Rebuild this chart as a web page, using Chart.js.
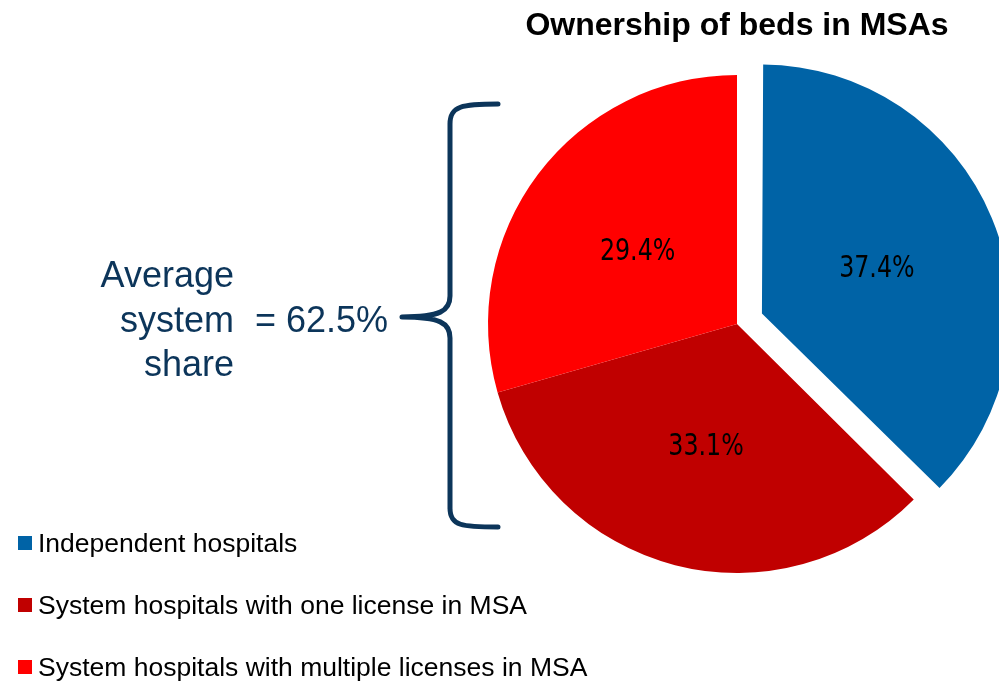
<!DOCTYPE html>
<html>
<head>
<meta charset="utf-8">
<script src="https://cdn.jsdelivr.net/npm/chart.js@4/dist/chart.umd.min.js"></script>
<style>
  html, body { margin: 0; padding: 0; background: #fff; }
  #wrap { position: relative; width: 999px; height: 686px; overflow: hidden; font-family: Arial, "Liberation Sans", sans-serif; }
  #c { position: absolute; left: 0; top: 0; }
  .ann { position: absolute; color: #0C355A; font-size: 36px; line-height: 44.5px; white-space: nowrap; }
  #legend { position: absolute; left: 0; top: 0; }
  .li { position: absolute; left: 18px; height: 30px; display: flex; align-items: center; font-size: 26.5px; color: #000; white-space: nowrap; }
  .li span.box { display: inline-block; width: 14px; height: 14px; margin-right: 6px; }
  svg { position: absolute; left: 0; top: 0; }
</style>
</head>
<body>
<div id="wrap">
  <canvas id="c" width="999" height="686"></canvas>
  <svg width="999" height="686">
    <path d="M 498 104 C 462 104, 450 106, 450 124 L 450 296 C 450 311, 440 317, 402 317 C 440 317, 450 323, 450 338 L 450 508 C 450 526, 462 527, 498 527"
          fill="none" stroke="#0C355A" stroke-width="5" stroke-linecap="round" stroke-linejoin="round"/>
  </svg>
  <div class="ann" style="left:0; width:234px; top:253px; text-align:right;">Average<br>system<br>share</div>
  <div class="ann" style="left:255px; top:298px;">= 62.5%</div>
  <div id="legend"></div>
</div>
<script>
// ---- data ----
const categories = [
  'Independent hospitals',
  'System hospitals with one license in MSA',
  'System hospitals with multiple licenses in MSA'
];
const shares = [37.4, 33.1, 29.4];
const sliceColors = ['#0063A6', '#C00000', '#FF0000'];
const sliceOffsets = [108, 0, 0];
const chartTitle = 'Ownership of beds in MSAs';

const FONT = 'Arial, "Liberation Sans", sans-serif';
const NARROW = '"Liberation Sans Narrow", "Arial Narrow", "DejaVu Sans Condensed", sans-serif';

// keep exploded slice the same radius as the others (Chart.js enlarges it slightly)
const radiusFix = {
  id: 'radiusFix',
  afterDatasetsUpdate(chart) {
    const meta = chart.getDatasetMeta(0);
    meta.data.forEach(arc => {
      const off = (arc.options.offset || 0) / 4;
      if (off) {
        const fix = 1 - Math.sin(Math.min(Math.PI, arc.circumference || 0));
        arc.outerRadius -= off * fix;
      }
    });
  }
};

const sliceLabels = {
  id: 'sliceLabels',
  afterDatasetsDraw(chart) {
    const meta = chart.getDatasetMeta(0);
    const R = meta.controller.outerRadius;
    const ctx = chart.ctx;
    ctx.save();
    ctx.font = '30px ' + NARROW;
    ctx.fillStyle = '#000';
    ctx.textAlign = 'center';
    ctx.textBaseline = 'middle';
    meta.data.forEach((arc, i) => {
      const half = (arc.startAngle + arc.endAngle) / 2;
      const d = (arc.options.offset || 0) / 4 + R / 2;
      const x = arc.x + Math.cos(half) * d;
      const y = arc.y + Math.sin(half) * d + 3;
      ctx.save();
      ctx.translate(x, y);
      ctx.scale(0.88, 1);
      ctx.fillText(shares[i].toFixed(1) + '%', 0, 0);
      ctx.restore();
    });
    ctx.restore();
  }
};

new Chart(document.getElementById('c'), {
  type: 'pie',
  data: {
    labels: categories,
    datasets: [{
      data: shares,
      backgroundColor: sliceColors,
      borderWidth: 0,
      offset: sliceOffsets
    }]
  },
  options: {
    responsive: false,
    animation: false,
    radius: 249,
    layout: { padding: { left: 475, right: 0, top: 0, bottom: 93.4 } },
    plugins: {
      legend: { display: false },
      tooltip: { enabled: false },
      title: {
        display: true,
        text: chartTitle,
        color: '#000',
        font: { family: FONT, size: 32, weight: 'bold' },
        padding: { top: 7, bottom: 10 }
      }
    }
  },
  plugins: [radiusFix, sliceLabels]
});

// legend (HTML) built from the same arrays
const legendTops = [528, 590, 652];
const leg = document.getElementById('legend');
categories.forEach((name, i) => {
  const d = document.createElement('div');
  d.className = 'li';
  d.style.top = legendTops[i] + 'px';
  d.innerHTML = '<span class="box" style="background:' + sliceColors[i] + '"></span>';
  d.appendChild(document.createTextNode(name));
  leg.appendChild(d);
});
</script>
</body>
</html>
